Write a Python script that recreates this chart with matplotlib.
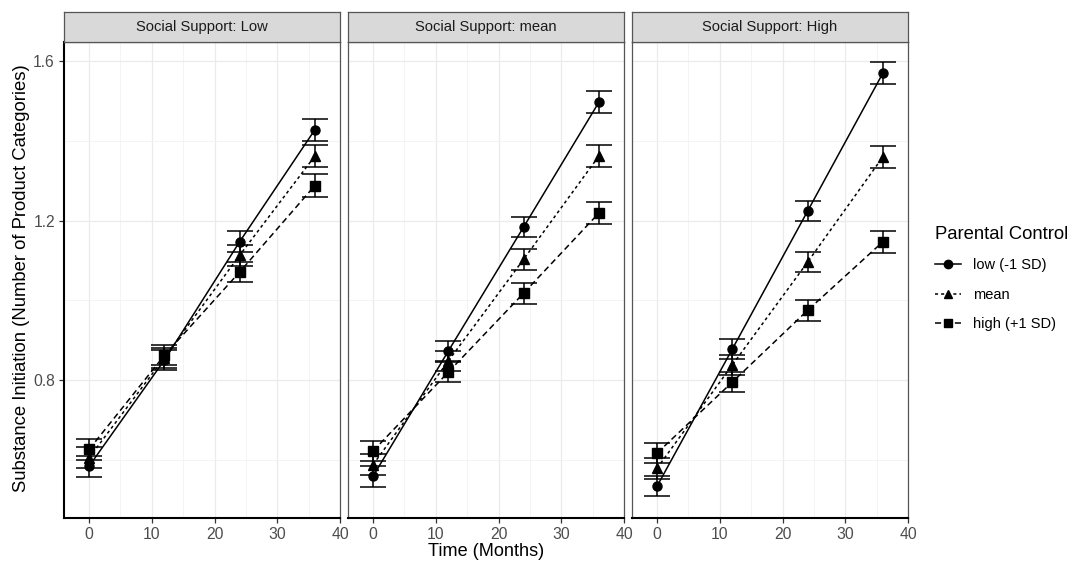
import matplotlib
matplotlib.use("Agg")
import matplotlib.pyplot as plt
from matplotlib.lines import Line2D
import numpy as np

plt.rcParams['font.family'] = ['Liberation Sans', 'DejaVu Sans']

months = [0, 12, 24, 36]
panels = ["Social Support: Low", "Social Support: mean", "Social Support: High"]
groups = ["low (-1 SD)", "mean", "high (+1 SD)"]

# values[panel][group] -> estimates at each month
low_support = {
    "low (-1 SD)": [0.584, 0.850, 1.147, 1.428],
    "mean": [0.605, 0.856, 1.113, 1.362],
    "high (+1 SD)": [0.626, 0.862, 1.071, 1.288],
}
mean_support = {
    "low (-1 SD)": [0.559, 0.873, 1.184, 1.497],
    "mean": [0.588, 0.848, 1.103, 1.362],
    "high (+1 SD)": [0.622, 0.820, 1.018, 1.219],
}
high_support = {
    "low (-1 SD)": [0.534, 0.878, 1.224, 1.570],
    "mean": [0.579, 0.838, 1.096, 1.360],
    "high (+1 SD)": [0.617, 0.795, 0.975, 1.147],
}
se_vals = [0.026, 0.025, 0.026, 0.028]

data = [low_support, mean_support, high_support]
markers = {"low (-1 SD)": "o", "mean": "^", "high (+1 SD)": "s"}
styles = {"low (-1 SD)": "-", "mean": (0, (2, 2)), "high (+1 SD)": (0, (4, 2.5))}

W, H = 1072, 565
fig = plt.figure(figsize=(W / 100, H / 100), dpi=100)

lefts = [64, 348, 632]
pw = 276
ptop, pbot = 42, 518
strip_top = 12

for i, (left, title, d) in enumerate(zip(lefts, panels, data)):
    ax = fig.add_axes([left / W, (H - pbot) / H, pw / W, (pbot - ptop) / H])
    ax.set_xlim(-4, 40)
    ax.set_ylim(0.454, 1.648)
    ax.set_xticks([0, 10, 20, 30, 40])
    ax.set_xticks([5, 15, 25, 35], minor=True)
    ax.set_yticks([0.8, 1.2, 1.6])
    ax.set_yticks([0.6, 1.0, 1.4], minor=True)
    ax.grid(which='major', color='#EBEBEB', linewidth=0.9)
    ax.grid(which='minor', color='#F2F2F2', linewidth=0.6)
    ax.set_axisbelow(True)
    for s in ax.spines.values():
        s.set_color('#555555')
        s.set_linewidth(0.9)
    ax.spines['bottom'].set_color('black')
    ax.spines['bottom'].set_linewidth(1.5)
    if i == 0:
        ax.spines['left'].set_color('black')
        ax.spines['left'].set_linewidth(1.5)
    ax.tick_params(which='major', length=3.5, color='#333333', labelsize=11.3, labelcolor='#4D4D4D',
                   width=0.9, pad=3)
    ax.tick_params(which='minor', length=0)
    ax.set_yticklabels(['0.8', '1.2', '1.6'])
    if i > 0:
        ax.tick_params(axis='y', labelleft=False, left=False)
    for g in groups:
        ax.errorbar(months, d[g], yerr=se_vals, fmt='none', ecolor='black',
                    elinewidth=1.1, capsize=9.4, capthick=1.1, zorder=3)
        ax.plot(months, d[g], color='black', linestyle=styles[g], linewidth=1.1,
                marker=markers[g], markersize=6.5, zorder=4)
    # strip
    sax = fig.add_axes([left / W, (H - ptop) / H, pw / W, (ptop - strip_top) / H])
    sax.set_facecolor('#D9D9D9')
    sax.set_xticks([]); sax.set_yticks([])
    for s in sax.spines.values():
        s.set_color('#555555')
        s.set_linewidth(0.9)
    sax.text(0.5, 0.5, title, ha='center', va='center', fontsize=10.6, color='#1A1A1A',
             transform=sax.transAxes)

fig.text((lefts[0] + (lefts[2] + pw)) / 2 / W, (H - 552) / H, "Time (Months)", ha='center', va='center', fontsize=13.1)
fig.text(22 / W, (H - (ptop + pbot) / 2 + 2) / H, "Substance Initiation (Number of Product Categories)",
         ha='center', va='center', rotation=90, fontsize=13.3)

handles = [Line2D([0], [0], color='black', linestyle=styles[g], marker=markers[g],
                  markersize=6, linewidth=1.1) for g in groups]
leg = fig.legend(handles, groups, title="Parental Control", loc='upper left',
                 bbox_to_anchor=(922 / W, (H - 213) / H), frameon=False,
                 fontsize=10.5, title_fontsize=13.3, handlelength=1.8, labelspacing=1.05,
                 handletextpad=0.8)
leg._legend_box.align = "left"
leg._legend_box.sep = 11

fig.savefig("out.png", dpi=100)
